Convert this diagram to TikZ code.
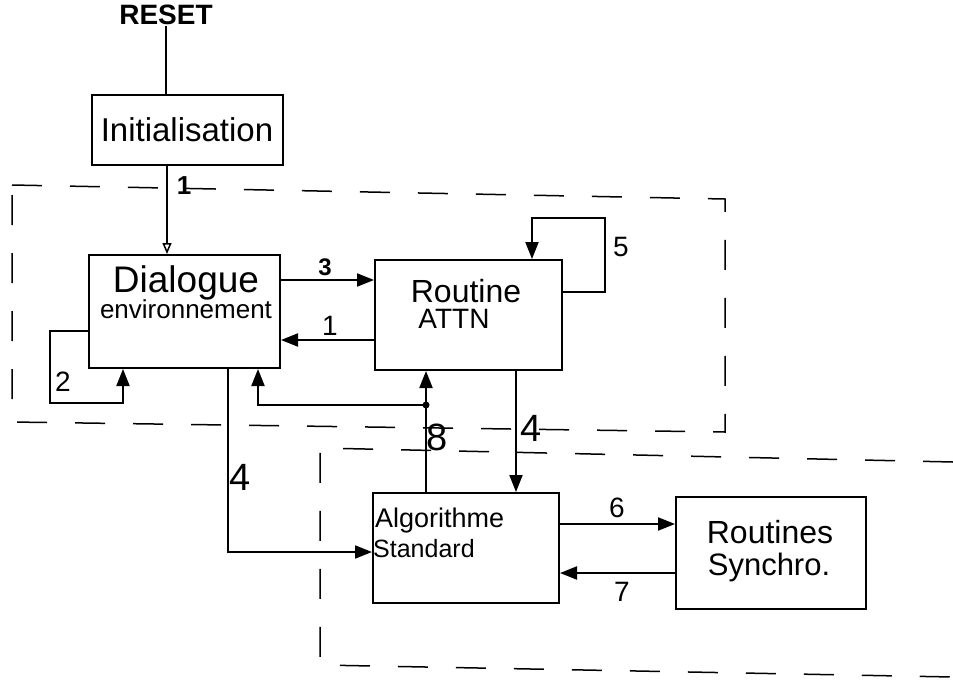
\documentclass[tikz,border=0pt]{standalone}
\usepackage{fontspec}
\setmainfont{Liberation Sans}
\usetikzlibrary{arrows.meta,positioning}

\tikzset{
  box/.style={draw,line width=2pt,inner sep=0pt},
  txt/.style={inner sep=0pt},
  arr/.style={line width=2pt,-{Triangle[length=17pt,width=13pt]}},
  thinarr/.style={line width=1.5pt,-{Triangle[open,length=11pt,width=9pt]}},
  region/.style={line width=1.5pt,dash pattern=on 30pt off 28pt},
  num/.style={inner sep=0pt,font=\fontsize{28}{30}\selectfont},
  bignum/.style={inner sep=0pt,font=\fontsize{38}{40}\selectfont},
}

\begin{document}
\begin{tikzpicture}[x=1pt,y=-1pt]
  \useasboundingbox (0,0) rectangle (953,681);
  % dashed regions
  \draw[region] (12,185) -- (725,199) -- (725,432) -- (12,422) -- cycle;
  \draw[region] (953,462) -- (320,448) -- (320,665) -- (953,677);
  % blocks
  \node[inner sep=1pt,font=\fontsize{28}{30}\selectfont\bfseries] (reset) at (166,15) {RESET};
  \node[box,minimum width=191pt,minimum height=70pt,
        font=\fontsize{33}{36}\selectfont] (init) at (187,130) {Initialisation};
  \node[box,minimum width=191pt,minimum height=113pt] (dial) at (184.5,311.5) {};
  \node[txt,font=\fontsize{37}{38}\selectfont] (dialtxt) at (186,283) {Dialogue};
  \node[txt,font=\fontsize{26}{28}\selectfont] (envtxt) at (186,309) {environnement};
  \node[box,minimum width=187pt,minimum height=110pt] (attn) at (468.5,315) {};
  \node[txt,font=\fontsize{32}{34}\selectfont] (routtxt) at (466,291) {Routine};
  \node[txt,font=\fontsize{28}{30}\selectfont] (attntxt) at (454,319) {ATTN};
  \node[box,minimum width=186pt,minimum height=110pt] (algo) at (466,548) {};
  \node[txt,anchor=west,font=\fontsize{27}{30}\selectfont] (algotxt) at (375,521) {Algorithme};
  \node[txt,anchor=west,font=\fontsize{25}{28}\selectfont] (stdtxt) at (373,549) {Standard};
  \node[box,minimum width=190pt,minimum height=112pt] (sync) at (771,553) {};
  \node[txt,font=\fontsize{32}{36}\selectfont] (routstxt) at (770,532) {Routines};
  \node[txt,font=\fontsize{31}{34}\selectfont] (synctxt) at (769,567) {Synchro.};
  % connectors
  \draw[line width=1.5pt] (reset.south) -- (init.north -| reset.south);
  \draw[thinarr] (init.south -| 167,0) -- (dial.north -| 167,0);
  \draw[arr] (dial.east |- 0,280) -- (attn.west |- 0,280);
  \draw[arr] (attn.west |- 0,340) -- (dial.east |- 0,340);
  \draw[arr] (dial.west |- 0,331) -| (50,403) -| (dial.south -| 123,0);
  \draw[arr] (attn.east |- 0,292) -| (605,218) -| (attn.north -| 532,0);
  \draw[arr] (attn.south -| 516,0) -- (algo.north -| 516,0);
  \draw[arr] (algo.north -| 426,0) -- (attn.south -| 426,0);
  \coordinate (j8) at (426,405);
  \fill (j8) circle (3.5pt);
  \draw[arr] (j8) -| (dial.south -| 258,0);
  \draw[arr] (dial.south -| 228,0) |- (algo.west |- 0,552);
  \draw[arr] (algo.east |- 0,524) -- (sync.west |- 0,524);
  \draw[arr] (sync.west |- 0,573) -- (algo.east |- 0,573);
  % labels
  \node[num,font=\fontsize{26}{28}\selectfont\bfseries] (l1a) at (184,186) {1};
  \node[num,font=\fontsize{24}{26}\selectfont\bfseries] (l3) at (325,267) {3};
  \node[num] (l1b) at (330,326) {1};
  \node[num] (l2) at (63,382) {2};
  \node[num] (l5) at (621,247) {5};
  \node[bignum] (l4a) at (531,428) {4};
  \node[bignum] (l8) at (437,437) {8};
  \node[bignum] (l4b) at (240,477) {4};
  \node[num] (l6) at (617,508) {6};
  \node[num] (l7) at (622,592) {7};
\end{tikzpicture}
\end{document}
